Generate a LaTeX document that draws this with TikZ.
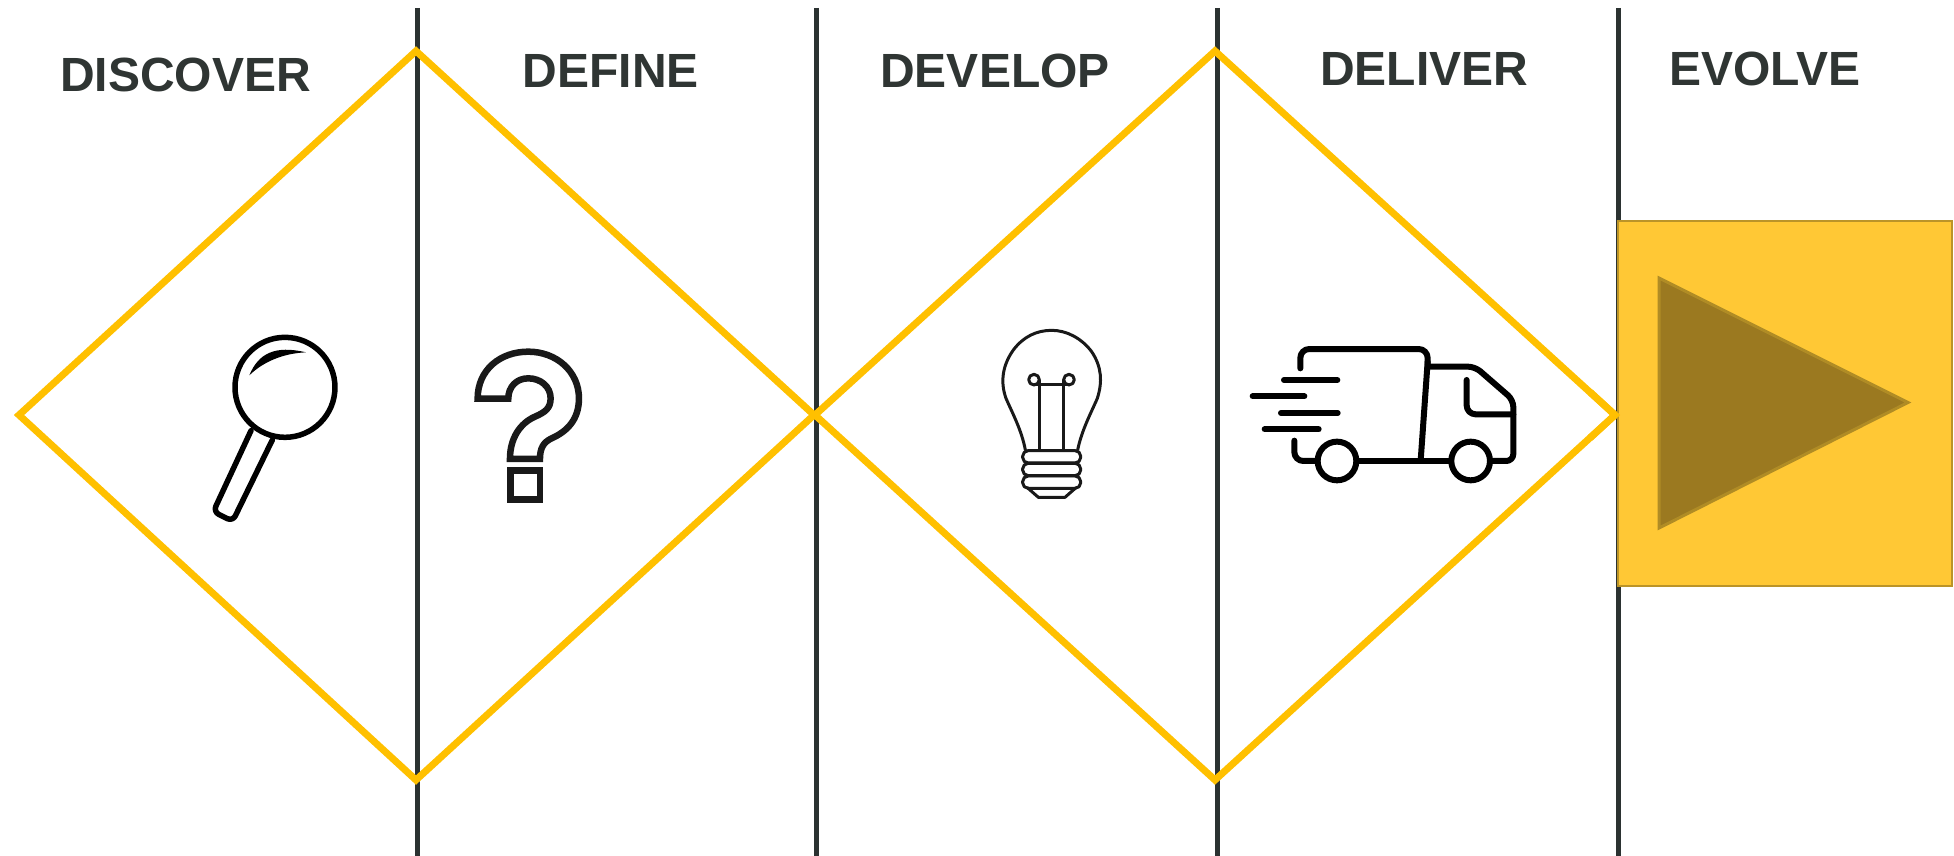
\documentclass[tikz,border=0pt]{standalone}
\usepackage{fontspec}
\setmainfont{Liberation Sans}
\definecolor{linedark}{HTML}{2B3231}
\definecolor{diamondgold}{HTML}{FFC000}
\definecolor{boxfill}{HTML}{FFC835}
\definecolor{boxedge}{HTML}{BB9428}
\definecolor{triafill}{HTML}{9B7920}
\definecolor{triaedge}{HTML}{B08C25}
\definecolor{labeltext}{HTML}{2F3533}
\tikzset{
  divider/.style={draw=linedark, line width=5pt},
  rhomb/.style={draw=diamondgold, line width=7pt, miter limit=10},
  phase/.style={text=labeltext, font=\fontsize{48}{50}\selectfont\bfseries, inner sep=0pt},
  icon/.style={draw=black, line width=5.5pt, line cap=round, line join=round},
  truckline/.style={icon, line width=6pt},
  thinicon/.style={draw=black!90, line width=3pt, line cap=round, line join=round}
}
\begin{document}
\begin{tikzpicture}[x=1pt, y=-1pt]
   \useasboundingbox (0,0) rectangle (1954,856);

   % Phase dividers
   \foreach \xpos in {417,816,1217.5,1618.5}
      \draw[divider] (\xpos,8) -- (\xpos,856);

   % Diamonds
   \draw[rhomb] (19,415) -- (416,51) -- (814,415) -- (416,780) -- cycle;
   \draw[rhomb] (815,415) -- (1215,51) -- (1615,415) -- (1215,780) -- cycle;

   % Phase names
   \node[phase] (discover) at (185.5,75) {DISCOVER};
   \node[phase] (define)   at (611,71) {DEFINE};
   \node[phase] (develop)  at (995,71) {DEVELOP};
   \node[phase] (deliver)  at (1424,69) {DELIVER};
   \node[phase] (evolve)   at (1765,69) {EVOLVE};

   % Evolve box
   \draw[fill=boxfill, draw=boxedge, line width=2.5pt] (1618,221) rectangle (1952,586);
   \draw[fill=triafill, draw=triaedge, line width=3pt, miter limit=10] (1659,278) -- (1659,528) -- (1908,402.5) -- cycle;
   \draw[rhomb] (1590,392) -- (1615,415) -- (1590,438);

   % Magnifier
   \begin{scope}[shift={(180,310)}, x=.3333pt, y=-.3333pt]
      \draw[icon] (315,232) circle [radius=150];
      \draw[icon, rounded corners=6pt] (213,362) -- (100,605) -- (158,634) -- (277,390);
      \fill (208,196) .. controls (235,130) and (285,105) .. (378,127) .. controls (310,130) and (250,155) .. cycle;
   \end{scope}

   % Question mark
   \begin{scope}[shift={(180,310)}, x=.3333pt, y=-.3333pt]
      \draw[icon, line width=6.5pt, line cap=butt, line join=miter, draw=black!90]
        (893,266) .. controls (893,180) and (960,125) .. (1045,125)
        .. controls (1130,125) and (1197,185) .. (1197,265)
        .. controls (1197,330) and (1160,365) .. (1115,385)
        .. controls (1090,397) and (1080,415) .. (1080,447)
        -- (990,447)
        .. controls (990,385) and (1020,340) .. (1065,320)
        .. controls (1095,307) and (1112,295) .. (1112,265)
        .. controls (1112,230) and (1082,205) .. (1045,205)
        .. controls (1010,205) and (985,230) .. (985,266)
        -- cycle;
      \draw[icon, line width=6.5pt, line cap=butt, line join=miter, draw=black!90] (992,481) rectangle (1080,569);
   \end{scope}

   % Light bulb
   \begin{scope}[shift={(980,310)}, x=.3333pt, y=-.3333pt]
      \draw[thinicon] (136,420)
        .. controls (125,360) and (95,305) .. (78,265)
        .. controls (60,215) and (68,165) .. (100,120)
        .. controls (130,80) and (170,61) .. (215,61)
        .. controls (260,61) and (305,85) .. (335,125)
        .. controls (365,170) and (368,215) .. (352,265)
        .. controls (335,305) and (305,360) .. (293,420);
      \draw[thinicon] (178,420) -- (178,210);
      \draw[thinicon] (251,420) -- (251,210);
      \draw[thinicon] (162,225) -- (267,225);
      \draw[thinicon] (162,209) circle [radius=16];
      \draw[thinicon] (267,209) circle [radius=16];
      \foreach \ytop in {422,460,498}
         \draw[thinicon, rounded corners=5.5pt] (128,\ytop) rectangle (302,\ytop+37);
      \draw[thinicon] (142,533) -- (175,562) -- (255,562) -- (288,533);
   \end{scope}

   % Delivery truck
   \begin{scope}[shift={(1240,330)}, x=.3333pt, y=-.3333pt]
      \draw[truckline, rounded corners=9pt] (181,115) -- (181,57) -- (563,57) -- (563,100);
      \draw[truckline] (563,95) -- (542,392);
      \draw[truckline, rounded corners=7pt] (563,110) -- (705,110) -- (820,210) -- (820,393) -- (750,393);
      \draw[truckline, rounded corners=9pt] (680,150) -- (680,253) -- (820,253);
      \draw[truckline] (355,393) -- (632,393);
      \draw[truckline, rounded corners=9pt] (163,332) -- (163,393) -- (228,393);
      \draw[truckline] (291,393) circle [radius=58];
      \draw[truckline] (692,393) circle [radius=58];
      \draw[truckline] (132,150) -- (292,150);
      \draw[truckline] (38,199) -- (193,199);
      \draw[truckline] (123,249) -- (293,249);
      \draw[truckline] (74,298) -- (236,298);
   \end{scope}
\end{tikzpicture}
\end{document}
